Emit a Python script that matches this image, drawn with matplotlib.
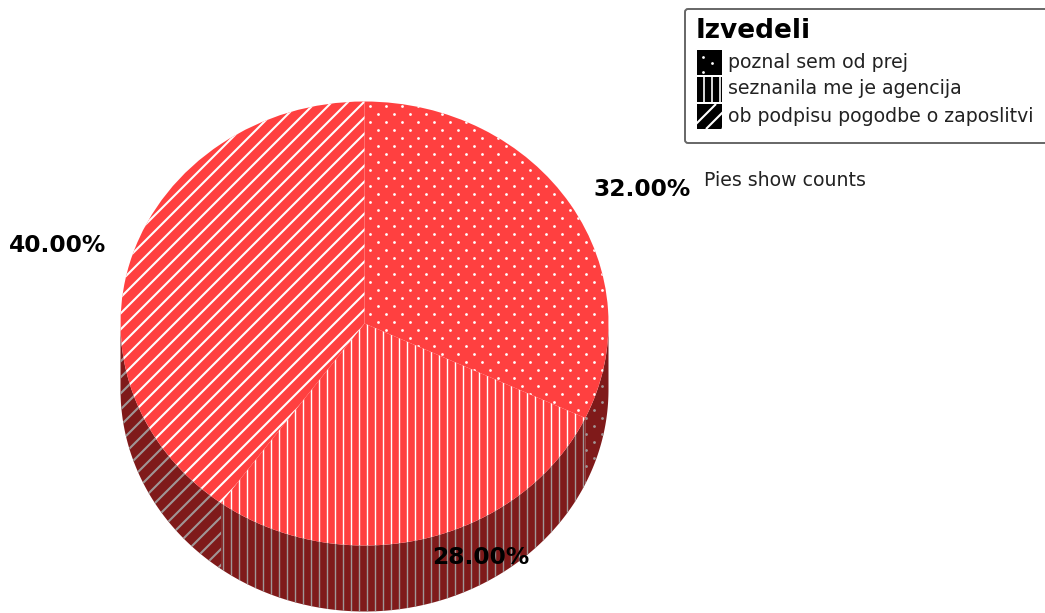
import numpy as np
import matplotlib
matplotlib.use("Agg")
import matplotlib.pyplot as plt
from matplotlib.collections import LineCollection
from matplotlib.patches import Rectangle, FancyBboxPatch
from matplotlib.transforms import Affine2D

W, H = 1045, 613

categories = ["poznal sem od prej", "seznanila me je agencija", "ob podpisu pogodbe o zaposlitvi"]
counts = [32, 28, 40]
pct_labels = ["32.00%", "28.00%", "40.00%"]
legend_title = "Izvedeli"
note = "Pies show counts"

CX, CY = 364.5, 323.5
RX, RY = 244.0, 222.0
DEPTH = 66.0
TOP_RED = "#ff4040"
SIDE_RED = "#7f1a1a"

fig = plt.figure(figsize=(W / 100, H / 100), dpi=100)
ax = fig.add_axes([0, 0, 1, 1])

# pixel coords with the origin top left, for patterns and text
px = Affine2D().scale(1, -1).translate(0, H)


def dots(clip, color, x0, y0, x1, y1):
    xs, ys = [], []
    for i, y in enumerate(np.arange(y0, y1, 8)):
        shift = 8 if i % 2 else 0
        for x in np.arange(x0 + shift, x1, 16):
            xs.append(x)
            ys.append(y)
    pts = ax.scatter(xs, ys, s=4, color=color, linewidths=0, transform=px, zorder=3)
    pts.set_clip_path(clip)


def vlines(clip, color, x0, y0, x1, y1):
    segs = [[(x, y0), (x, y1)] for x in np.arange(x0, x1, 8)]
    lc = LineCollection(segs, colors=color, linewidths=1.0, transform=px, zorder=3)
    ax.add_collection(lc, autolim=False)
    lc.set_clip_path(clip)


def diags(clip, color, x0, y0, x1, y1):
    h = y1 - y0
    segs = [[(x, y1), (x + h, y0)] for x in np.arange(x0 - h, x1, 16)]
    lc = LineCollection(segs, colors=color, linewidths=1.5, transform=px, zorder=3)
    ax.add_collection(lc, autolim=False)
    lc.set_clip_path(clip)


patterns = [dots, vlines, diags]
offsets = [(369.5, 105.5), (222.5, 100), (14.0, 100)]

wedges, _ = ax.pie(counts, startangle=90, counterclock=False, radius=1, center=(0, 0),
                   colors=[TOP_RED] * 3, wedgeprops={"linewidth": 0, "zorder": 2})
ax.set_aspect("auto")
ax.set_xlim(-CX / RX, (W - CX) / RX)
ax.set_ylim((CY - H) / RY, CY / RY)

# walls of the pie, only the part of each slice below the centre line
depth = DEPTH / RY
start = 0.0
for i, c in enumerate(counts):
    end = start + c / sum(counts) * 360
    a0, a1 = max(start, 90), min(end, 270)
    if a1 > a0:
        t = np.radians(np.linspace(a0, a1, 120))
        xs = np.sin(t)
        ys = np.cos(t)
        wall = ax.fill(np.r_[xs, xs[::-1]], np.r_[ys, ys[::-1] - depth],
                       color=SIDE_RED, linewidth=0, zorder=1)[0]
        patterns[i](wall, "#a09696", offsets[i][0], offsets[i][1], 640, H)
    patterns[i](wedges[i], "white", offsets[i][0], offsets[i][1], 640, 560)
    start = end

# value labels, the first one is cut off before the note
label_style = dict(family="DejaVu Sans", fontweight="bold", fontsize=16.8, color="black",
                   transform=px, va="center", zorder=5)
t32 = ax.text(593, 190, pct_labels[0], **label_style)
t32.set_clip_path(Rectangle((0, 0), 685, H, transform=px))
ax.text(432, 558, pct_labels[1], **label_style)
ax.text(9, 245, pct_labels[2], **label_style)

ax.text(704, 181, note, family="DejaVu Sans", fontsize=13.6, color="#222222",
        transform=px, va="center", zorder=5)

# legend box
box = FancyBboxPatch((685, 9), 400, 134, boxstyle="round,pad=0,rounding_size=3",
                     facecolor="white", edgecolor="#666666", linewidth=1.4,
                     transform=px, clip_on=True, zorder=4)
ax.add_patch(box)
ax.text(696, 31, legend_title, family="DejaVu Sans", fontweight="bold", fontsize=19,
        color="black", transform=px, va="center", zorder=5)

for i, name in enumerate(categories):
    y = 50 + 27 * i
    sw = Rectangle((697, y), 25, 25, facecolor="black", edgecolor="none", transform=px, zorder=5)
    ax.add_patch(sw)
    if i == 0:
        pts = ax.scatter([703, 712, 703], [y + 7, y + 13, y + 22], s=4, color="white",
                         linewidths=0, transform=px, zorder=6)
        pts.set_clip_path(sw)
    elif i == 1:
        lc = LineCollection([[(x, y), (x, y + 25)] for x in (703.5, 711.5, 719.5)], colors="white",
                            linewidths=1.2, transform=px, zorder=6)
        ax.add_collection(lc, autolim=False)
        lc.set_clip_path(sw)
    else:
        lc = LineCollection([[(x, y + 25), (x + 25, y)] for x in (691, 706, 722)], colors="white",
                            linewidths=1.5, transform=px, zorder=6)
        ax.add_collection(lc, autolim=False)
        lc.set_clip_path(sw)
    ax.text(728, y + 12, name, family="DejaVu Sans", fontsize=13.6, color="#222222",
            transform=px, va="center", zorder=5)

fig.savefig("out.png", dpi=100)
